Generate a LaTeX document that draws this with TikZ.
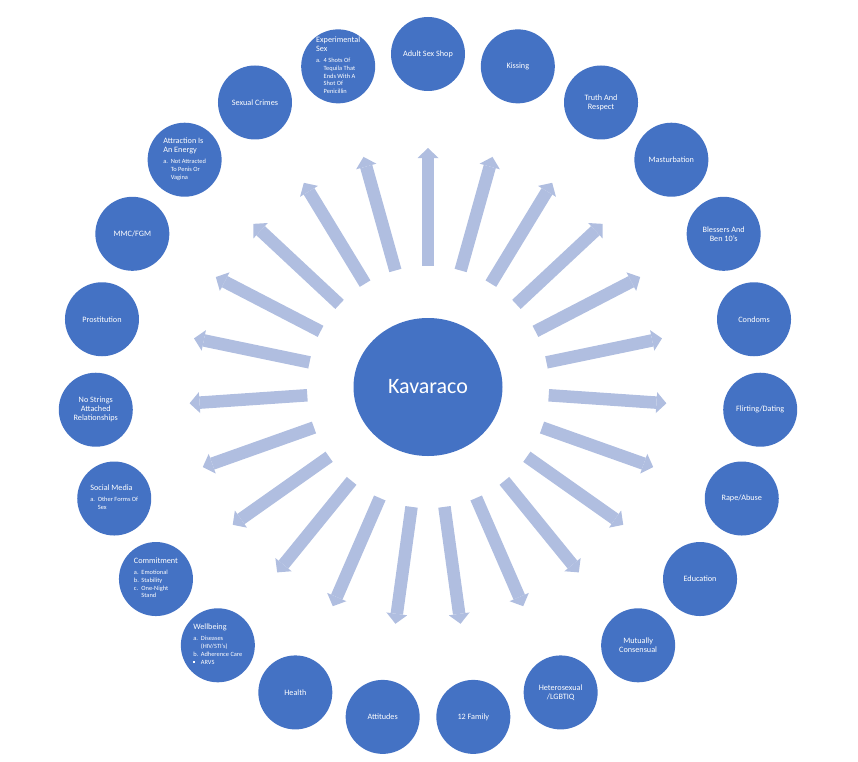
\documentclass[tikz,border=0pt]{standalone}
\usepackage{fontspec}
\setmainfont{Carlito}
\usetikzlibrary{arrows.meta,shapes.geometric}
\definecolor{topicblue}{HTML}{4472C4}
\definecolor{spokeblue}{RGB}{176,190,224}
\newcommand{\mk}[1]{\makebox[7.5pt][l]{#1}}
\newcommand{\sublist}[1]{{\fontsize{6.4}{7.8}\selectfont\begin{tabular}[t]{@{}l@{}}#1\end{tabular}}}

\begin{document}
\begin{tikzpicture}[x=1pt,y=1pt,
	topic/.style={circle,fill=topicblue,text=white,inner sep=0pt,minimum size=74pt,font=\fontsize{8.2}{9}\selectfont},
	hub/.style={ellipse,fill=topicblue,text=white,inner sep=0pt,minimum width=149pt,minimum height=138pt,font=\fontsize{22}{26}\selectfont},
	spoke/.style={draw=spokeblue,line width=12.5pt,-{Triangle[length=10pt,width=21pt,line width=0pt]}}]
		% Kavaraco topic wheel
		\useasboundingbox (-428,-374) rectangle (430,387);
		\node[hub] (Kavaraco) at (0,0) {Kavaraco};
		
		\foreach \k/\al/\nm/\txt in {
			0/center/Shop/{Adult Sex Shop},
			1/center/Kissing/{Kissing},
			2/center/Truth/{Truth And\\Respect},
			3/center/Masturbation/{Masturbation},
			4/center/Blessers/{Blessers And\\Ben 10’s},
			5/center/Condoms/{Condoms},
			6/center/Flirting/{Flirting/Dating},
			7/center/Rape/{Rape/Abuse},
			8/center/Education/{Education},
			9/center/Consensual/{Mutually\\Consensual},
			10/center/Orientation/{Heterosexual\\/LGBTIQ},
			11/center/Family/{12 Family},
			12/center/Attitudes/{Attitudes},
			13/center/Health/{Health},
			14/left/Wellbeing/{Wellbeing\\[2pt]\sublist{\mk{a.}Diseases\\\mk{}(HIV/STI’s)\\\mk{b.}Adherence Care\\\mk{\raisebox{1pt}{\rule{1.8pt}{1.8pt}}}ARVS}},
			15/left/Commitment/{Commitment\\[2pt]\sublist{\mk{a.}Emotional\\\mk{b.}Stability\\\mk{c.}One-Night\\\mk{}Stand}},
			16/left/Media/{Social Media\\[2pt]\sublist{\mk{a.}Other Forms Of\\\mk{}Sex}},
			17/center/Strings/{No Strings\\Attached\\Relationships},
			18/center/Prostitution/{Prostitution},
			19/center/Circumcision/{MMC/FGM},
			20/left/Attraction/{Attraction Is\\An Energy\\[2pt]\sublist{\mk{a.}Not Attracted\\\mk{}To Penis Or\\\mk{}Vagina}},
			21/center/Crimes/{Sexual Crimes},
			22/left/Experimental/{Experimental\\Sex\\[2pt]\sublist{\mk{a.}4 Shots Of\\\mk{}Tequila That\\\mk{}Ends With A\\\mk{}Shot Of\\\mk{}Penicillin}}}{
			\pgfmathsetmacro{\a}{90-\k*360/23}
			\node[topic,align=\al] (\nm) at (\a:333) {\txt};
			\coordinate (From\nm) at (\a:121);
			\coordinate (To\nm) at (\a:239);
			\draw[spoke] (From\nm) -- (To\nm);
		}
		
\end{tikzpicture}
\end{document}
